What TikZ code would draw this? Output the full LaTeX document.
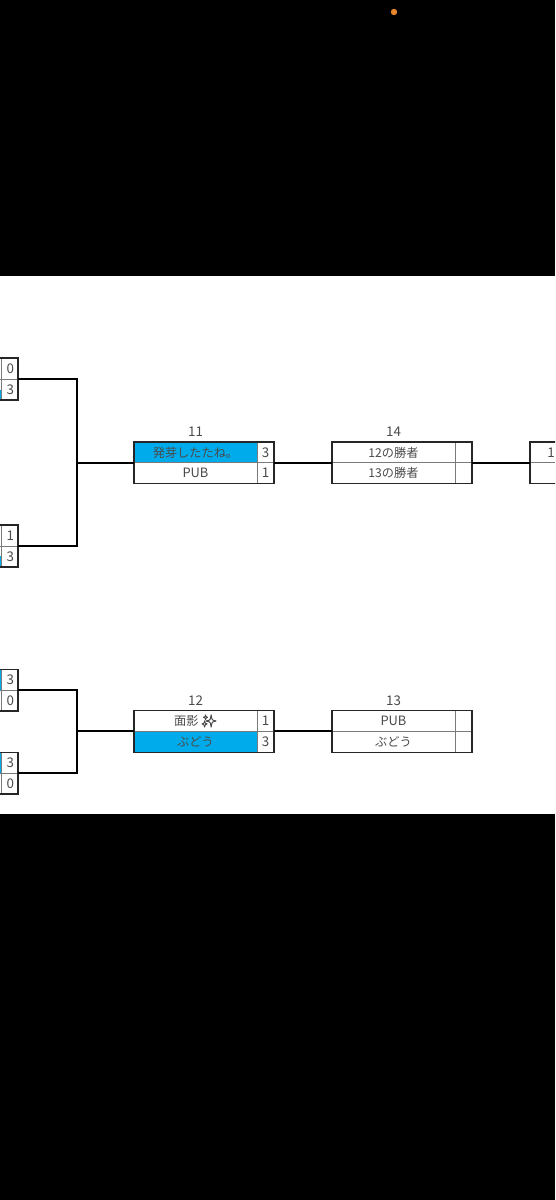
\documentclass[tikz,border=0pt]{standalone}
\usepackage{fontspec}
\usepackage{xcolor}
\setmainfont{Noto Sans CJK JP}
\newfontfamily\emojifont[FakeBold=3]{Noto Emoji}
\definecolor{cellblue}{HTML}{00ABEB}
\definecolor{celltext}{HTML}{4A4A4A}
\definecolor{sepgray}{HTML}{7A7A7A}
\definecolor{dotorange}{HTML}{E8862E}
\usetikzlibrary{positioning}
\tikzset{
    cellfont/.style={font=\fontsize{11.4}{13}\selectfont, text=celltext, inner sep=0pt},
    namecell/.style={cellfont, font=\fontsize{10.4}{12}\selectfont, minimum width=3.69cm, minimum height=0.625cm, outer sep=0pt},
    latincell/.style={namecell, font=\fontsize{11}{13}\selectfont},
    scorecell/.style={cellfont, minimum width=0.51cm, minimum height=0.625cm, outer sep=0pt},
    framebox/.style={draw=black!85, line width=1.15pt, minimum width=4.2cm, minimum height=1.25cm, outer sep=0pt, inner sep=0pt},
    matchno/.style={cellfont},
    wire/.style={draw=black, line width=1.7pt},
    sepline/.style={draw=sepgray, line width=0.65pt}
}
\begin{document}
\begin{tikzpicture}[x=0.03cm, y=-0.03cm]
    \useasboundingbox (0,0) rectangle (555,1200);
    \clip (0,0) rectangle (555,1200);
    % Screen
    \fill[black] (0,0) rectangle (555,1200);
    \fill[white] (0,276) rectangle (555,814);
    \fill[dotorange] (394,12) circle (3.2);

    % Left column
    \fill[cellblue] (-122,389.5) rectangle (1,400);
    \fill[cellblue] (-122,556) rectangle (1,567);
    \fill[cellblue] (-122,669) rectangle (1,690);
    \fill[cellblue] (-122,752) rectangle (1,773);
    \node[scorecell] (s1a) at (10.3,368.5) {0};
    \node[scorecell] (s1b) at (10.3,389.5) {3};
    \node[scorecell] (s2a) at (10.3,535.5) {1};
    \node[scorecell] (s2b) at (10.3,556.5) {3};
    \node[scorecell] (s3a) at (10.3,679.5) {3};
    \node[scorecell] (s3b) at (10.3,700.5) {0};
    \node[scorecell] (s4a) at (10.3,762.5) {3};
    \node[scorecell] (s4b) at (10.3,783.5) {0};
    \foreach \ya in {379, 546, 690, 773.2} {
        \draw[sepline] (1,\ya-21) -- (1,\ya+21);
        \draw[sepline] (0,\ya) -- (18,\ya);
    }
    \node[framebox] (q1) at (-52,379) {};
    \node[framebox] (q2) at (-52,546) {};
    \node[framebox] (q3) at (-52,690) {};
    \node[framebox] (q4) at (-52,773.2) {};

    % Match 11
    \node[namecell, fill=cellblue] (m11a) at (195.5,452.4) {発芽したたね。};
    \node[latincell] (m11b) at (195.5,473.2) {PUB};
    \node[scorecell] (m11c) at (265.5,452.4) {3};
    \node[scorecell] (m11d) at (265.5,473.2) {1};
    \draw[sepline] (134,462.8) -- (274,462.8);
    \draw[sepline] (257,442) -- (257,483.5);
    \node[framebox] (m11) at (204,462.8) {};
    \node[matchno] (n11) at (195.5,431.5) {11};

    % Match 12
    \node[namecell] (m12a) at (195.5,721) {面影 {\emojifont ✨}};
    \node[namecell, fill=cellblue] (m12b) at (195.5,741.8) {ぶどう};
    \node[scorecell] (m12c) at (265.5,721) {1};
    \node[scorecell] (m12d) at (265.5,741.8) {3};
    \draw[sepline] (134,731.4) -- (274,731.4);
    \draw[sepline] (257,710.7) -- (257,752.2);
    \node[framebox] (m12) at (204,731.4) {};
    \node[matchno] (n12) at (195.5,700.5) {12};

    % Match 14
    \node[namecell] (m14a) at (393.5,452.4) {12の勝者};
    \node[namecell] (m14b) at (393.5,473.2) {13の勝者};
    \draw[sepline] (332,462.8) -- (472,462.8);
    \draw[sepline] (455,442) -- (455,483.5);
    \node[framebox] (m14) at (402,462.8) {};
    \node[matchno] (n14) at (393.5,431.5) {14};

    % Match 13
    \node[latincell] (m13a) at (393.5,721) {PUB};
    \node[namecell] (m13b) at (393.5,741.8) {ぶどう};
    \draw[sepline] (332,731.4) -- (472,731.4);
    \draw[sepline] (455,710.7) -- (455,752.2);
    \node[framebox] (m13) at (402,731.4) {};
    \node[matchno] (n13) at (393.5,700.5) {13};

    % Final, cut off by the screen
    \node[cellfont] (m15a) at (551,452.4) {1};
    \draw[sepline] (530,462.8) -- (555,462.8);
    \node[framebox] (m15) at (600,462.8) {};

    % Connectors
    \coordinate (joinup) at (77,462.8);
    \coordinate (joindown) at (77,731.4);
    \draw[wire] (q1.east) -| (joinup);
    \draw[wire] (q2.east) -| (joinup);
    \draw[wire] (q3.east) -| (joindown);
    \draw[wire] (q4.east) -| (joindown);
    \draw[wire] (joinup) -- (m11.west);
    \draw[wire] (joindown) -- (m12.west);
    \draw[wire] (m11.east) -- (m14.west);
    \draw[wire] (m12.east) -- (m13.west);
    \draw[wire] (m14.east) -- (m15.west);
\end{tikzpicture}
\end{document}
